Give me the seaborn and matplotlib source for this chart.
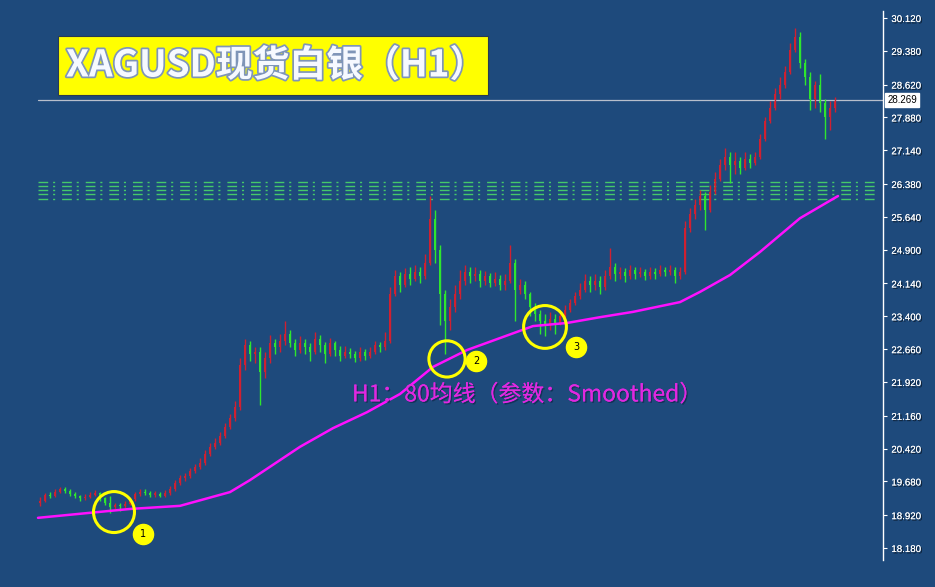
import numpy as np
import pandas as pd
import seaborn as sns
import matplotlib
matplotlib.use("Agg")
import matplotlib.pyplot as plt
import matplotlib.patheffects as pe
import matplotlib.transforms as mtransforms
from matplotlib.patches import Rectangle

# H1 candles of XAGUSD (open = previous close)
first_open = 19.20
closes = [
    19.25, 19.38, 19.35, 19.45, 19.50, 19.47, 19.40, 19.35, 19.30, 19.33,
    19.38, 19.42, 19.30, 19.20, 19.10, 19.15, 19.12, 19.18, 19.28, 19.40,
    19.45, 19.42, 19.38, 19.40, 19.36, 19.42, 19.50, 19.65, 19.75, 19.80,
    19.92, 20.00, 20.10, 20.30, 20.45, 20.55, 20.70, 20.90, 21.10, 21.35,
    22.30, 22.75, 22.55, 22.60, 22.15, 22.45, 22.80, 22.70, 22.85, 23.00,
    22.80, 22.65, 22.80, 22.70, 22.60, 22.90, 22.75, 22.55, 22.80, 22.65,
    22.50, 22.60, 22.55, 22.45, 22.60, 22.50, 22.60, 22.75, 22.70, 22.85,
    23.90, 24.30, 24.10, 24.35, 24.25, 24.40, 24.30, 24.60, 25.60, 24.90,
    23.90, 23.30, 23.60, 23.90, 24.20, 24.40, 24.30, 24.35, 24.20, 24.30,
    24.15, 24.25, 24.10, 24.20, 24.60, 24.00, 24.10, 23.90, 23.60, 23.45,
    23.30, 23.20, 23.35, 23.25, 23.40, 23.55, 23.70, 23.85, 24.00, 24.20,
    24.10, 24.20, 24.05, 24.30, 24.50, 24.35, 24.40, 24.30, 24.45, 24.35,
    24.40, 24.30, 24.40, 24.35, 24.45, 24.40, 24.45, 24.30, 24.40, 25.40,
    25.70, 25.90, 26.10, 25.80, 26.20, 26.50, 26.80, 27.00, 26.80, 26.90,
    26.75, 26.95, 26.85, 27.00, 27.40, 27.80, 28.10, 28.40, 28.60, 28.90,
    29.40, 29.70, 29.10, 28.80, 28.30, 28.60, 28.20, 27.90, 28.10, 28.27,
]
highs = [
    19.32, 19.42, 19.44, 19.52, 19.56, 19.55, 19.50, 19.44, 19.38, 19.40,
    19.44, 19.48, 19.45, 19.34, 19.35, 19.20, 19.20, 19.24, 19.32, 19.45,
    19.52, 19.50, 19.46, 19.46, 19.44, 19.48, 19.58, 19.72, 19.82, 19.88,
    19.98, 20.08, 20.20, 20.38, 20.55, 20.65, 20.80, 21.00, 21.20, 21.50,
    22.45, 22.90, 22.85, 22.70, 22.70, 22.60, 22.98, 22.90, 23.00, 23.30,
    23.10, 22.88, 22.95, 22.90, 22.80, 23.05, 22.98, 22.82, 22.92, 22.85,
    22.72, 22.72, 22.68, 22.62, 22.70, 22.66, 22.70, 22.85, 22.82, 23.05,
    24.05, 24.45, 24.40, 24.48, 24.50, 24.55, 24.50, 24.80, 26.10, 25.80,
    25.00, 24.00, 23.80, 24.10, 24.45, 24.55, 24.50, 24.50, 24.45, 24.42,
    24.38, 24.40, 24.32, 24.35, 25.00, 24.70, 24.25, 24.20, 23.95, 23.70,
    23.55, 23.45, 23.50, 23.45, 23.50, 23.65, 23.80, 23.95, 24.15, 24.35,
    24.30, 24.35, 24.30, 24.45, 24.95, 24.60, 24.52, 24.48, 24.55, 24.52,
    24.50, 24.46, 24.50, 24.48, 24.55, 24.52, 24.55, 24.50, 24.50, 25.55,
    25.85, 26.05, 26.25, 26.20, 26.35, 26.65, 26.95, 27.20, 27.10, 27.10,
    27.00, 27.10, 27.05, 27.10, 27.50, 27.90, 28.25, 28.55, 28.80, 29.05,
    29.55, 29.90, 29.80, 29.20, 28.90, 28.70, 28.85, 28.30, 28.25, 28.35,
]
lows = [
    19.12, 19.22, 19.30, 19.32, 19.42, 19.42, 19.36, 19.30, 19.25, 19.26,
    19.30, 19.35, 19.25, 19.15, 18.98, 19.05, 19.02, 19.08, 19.14, 19.25,
    19.36, 19.38, 19.33, 19.34, 19.32, 19.32, 19.38, 19.46, 19.60, 19.70,
    19.76, 19.86, 19.95, 20.05, 20.25, 20.40, 20.50, 20.65, 20.85, 21.05,
    21.30, 22.20, 22.40, 22.35, 21.40, 22.00, 22.35, 22.55, 22.60, 22.75,
    22.70, 22.50, 22.58, 22.55, 22.40, 22.55, 22.60, 22.35, 22.50, 22.50,
    22.40, 22.45, 22.45, 22.38, 22.40, 22.42, 22.45, 22.55, 22.60, 22.65,
    22.80, 23.85, 23.95, 24.05, 24.10, 24.20, 24.15, 24.25, 24.55, 24.60,
    23.20, 22.55, 23.10, 23.50, 23.80, 24.10, 24.15, 24.20, 24.05, 24.10,
    24.05, 24.08, 24.00, 24.00, 24.15, 23.30, 23.90, 23.80, 23.40, 23.30,
    23.00, 22.95, 23.10, 23.00, 23.20, 23.35, 23.50, 23.65, 23.80, 23.95,
    23.95, 24.00, 23.90, 24.00, 24.25, 24.20, 24.25, 24.18, 24.25, 24.25,
    24.28, 24.22, 24.25, 24.25, 24.30, 24.30, 24.32, 24.15, 24.25, 24.35,
    25.30, 25.60, 25.80, 25.35, 25.75, 26.15, 26.45, 26.70, 26.40, 26.60,
    26.60, 26.70, 26.75, 26.80, 26.95, 27.35, 27.75, 28.05, 28.30, 28.55,
    28.85, 29.35, 29.00, 28.60, 28.05, 28.10, 28.00, 27.40, 27.60, 28.00,
]

# 80-period smoothed moving average, read at a few bars
ma_bar = [-0.4, 18, 28, 38, 42, 52, 58.6, 65.4, 72, 78.6, 85.4, 92, 98.6,
          105.4, 112, 118.6, 128, 132, 138, 144, 152, 159.6]
ma_val = [18.86, 19.06, 19.13, 19.44, 19.71, 20.46, 20.88, 21.24, 21.65, 22.26,
          22.64, 22.91, 23.18, 23.25, 23.38, 23.50, 23.72, 23.95, 24.33, 24.85,
          25.61, 26.11]

ring_bar = [14.8, 81.4, 101.0]
ring_price = [18.99, 22.44, 23.16]
ring_size = [870, 680, 950]
badge_bar = [20.6, 87.2, 107.2]
badge_price = [18.50, 22.39, 22.71]
badge_text = ["1", "2", "3"]

zone_levels = [26.42, 26.33, 26.24, 26.15, 26.05]
last_price = 28.269
price_ticks = [18.180, 18.920, 19.680, 20.420, 21.160, 21.920, 22.660, 23.400,
               24.140, 24.900, 25.640, 26.380, 27.140, 27.880, 28.620, 29.380, 30.120]

title = "XAGUSD现货白银（H1）"
ma_note = "H1：80均线（参数：Smoothed）"

bg = "#1E4A7C"
up_col = "#D02030"
dn_col = "#2EE62E"

sns.set_style("dark")
plt.rcParams["font.family"] = ["Noto Sans CJK SC", "DejaVu Sans"]
plt.rcParams["lines.scale_dashes"] = False

df = pd.DataFrame({"close": closes, "high": highs, "low": lows})
df["open"] = [first_open] + closes[:-1]
df["bar"] = np.arange(len(df))
df["up"] = df["close"] >= df["open"]
cols = np.where(df["up"], up_col, dn_col)

fig = plt.figure(figsize=(9.35, 5.87), dpi=100, facecolor=bg)
ax = fig.add_axes([0, 27 / 587, 883 / 935, 549 / 587])
ax.set_facecolor(bg)

# zone of dashed green levels
for lv in zone_levels:
    ax.plot([-0.4, 167.0], [lv, lv], color="#45C86A", lw=1.0,
            linestyle=(0, (7.0, 3.5, 1.5, 5.0)))

# last price line
ax.plot([-0.4, 168.6], [last_price, last_price], color="#B8BFCC", lw=0.9)

# candles
ax.vlines(df["bar"], df["low"], df["high"], colors=cols, lw=1.0)
body = (df["close"] - df["open"]).abs().clip(lower=0.03)
ax.bar(df["bar"], body, bottom=df[["open", "close"]].min(axis=1), width=0.5,
       color=cols, linewidth=0)

# moving average
sns.lineplot(x=ma_bar, y=ma_val, color="#FF10FF", lw=1.8, ax=ax)

# marked touches of the average
ax.scatter(ring_bar, ring_price, s=ring_size, facecolors="none",
           edgecolors="#FFFF00", linewidths=2.2, zorder=5)
ax.scatter(badge_bar, badge_price, s=210, color="#FFFF00", zorder=6)
for bx, by, t in zip(badge_bar, badge_price, badge_text):
    ax.text(bx, by, t, ha="center", va="center", fontsize=7, color="black",
            family=["DejaVu Sans"], zorder=7)

ax.text(62.4, 21.63, ma_note, color="#E028E0", fontsize=16.5, ha="left",
        va="center",
        path_effects=[pe.withSimplePatchShadow(offset=(1, -1), shadow_rgbFace="#10284A", alpha=0.7),
                      pe.Normal()])

ax.set_xlim(-8, 168.6)
ax.set_ylim(17.91, 30.278)
ax.set_xticks([])
ax.yaxis.tick_right()
ax.set_yticks(price_ticks)
ax.set_yticklabels([f"{v:.3f}" for v in price_ticks])
ax.tick_params(axis="y", direction="out", length=3, width=0.8, color="white",
               labelcolor="white", labelsize=7, pad=3)
for lbl in ax.get_yticklabels():
    lbl.set_family(["Liberation Sans", "DejaVu Sans"])
    lbl.set_path_effects([pe.withSimplePatchShadow(offset=(1, -1), shadow_rgbFace="black", alpha=0.6),
                          pe.Normal()])
ax.grid(False)
for side in ["left", "top", "bottom"]:
    ax.spines[side].set_visible(False)
ax.spines["right"].set_color("white")
ax.spines["right"].set_linewidth(1)

trans = mtransforms.blended_transform_factory(ax.transAxes, ax.transData)
ax.text(1.005, last_price, f"{last_price:.3f}", transform=trans, fontsize=7,
        color="black", va="center", ha="left", family=["Liberation Sans", "DejaVu Sans"],
        bbox=dict(boxstyle="square,pad=0.2", facecolor="white", edgecolor="white"))

# title plate
fig.patches.append(Rectangle((58 / 935, 1 - 95 / 587), 430 / 935, 59 / 587,
                             transform=fig.transFigure, facecolor="#FFFF00",
                             edgecolor="#2A3A50", lw=0.8, zorder=10))
fig.text(66 / 935, 1 - 66 / 587, title, fontsize=26.5, fontweight="bold",
         color="#F6F9FF", va="center", ha="left", zorder=11,
         path_effects=[pe.withStroke(linewidth=2.5, foreground="#7F95B8")])

fig.savefig("out.png", dpi=100, facecolor=bg)
